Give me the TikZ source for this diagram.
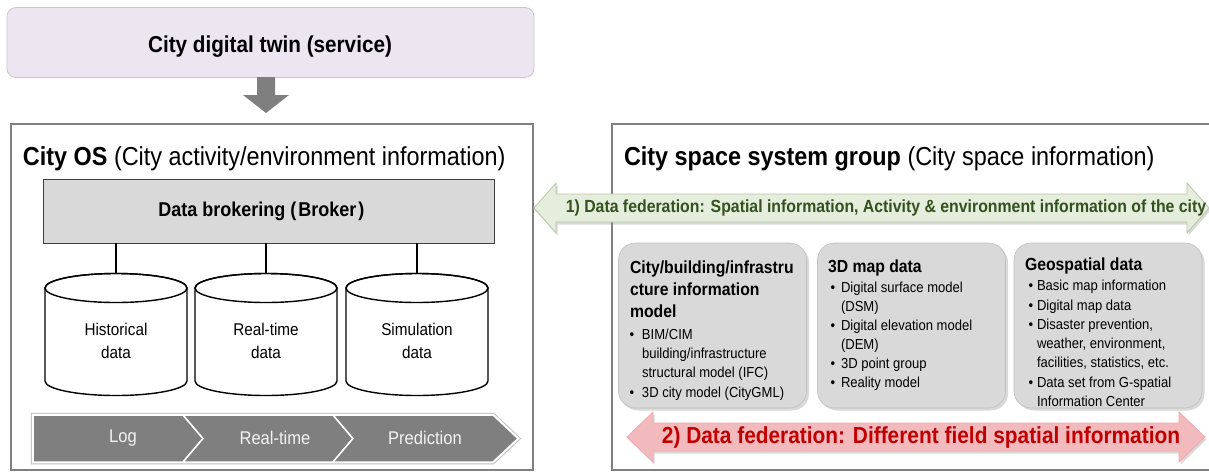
\documentclass[tikz,border=0pt]{standalone}
\usepackage{fontspec}
\setmainfont{Liberation Sans}[FakeStretch=0.9]
\usetikzlibrary{shadows}

\definecolor{twinfill}{HTML}{EBE6F0}
\definecolor{twinline}{HTML}{CDC5D6}
\definecolor{panelgray}{HTML}{D9D9D9}
\definecolor{panelline}{HTML}{BFBFBF}
\definecolor{framegray}{HTML}{808080}
\definecolor{chevgray}{HTML}{7F7F7F}
\definecolor{chevtext}{HTML}{F2F2F2}
\definecolor{fedgreen}{HTML}{E5EEDC}
\definecolor{fedgreenline}{HTML}{B4C6A3}
\definecolor{fedgreentext}{HTML}{34501E}
\definecolor{fedred}{HTML}{F3BABE}
\definecolor{fedredline}{HTML}{EFA9AE}
\definecolor{fedredtext}{HTML}{C00000}

\newcommand\fsz[2]{\fontsize{#1}{#2}\selectfont}

\begin{document}
\begin{tikzpicture}[x=1pt,y=-1pt,
  every node/.style={inner sep=0pt, outer sep=0pt},
  twinbox/.style={draw=twinline, fill=twinfill, line width=0.8pt, rounded corners=9pt,
    minimum width=527pt, minimum height=70pt},
  panelframe/.style={draw=framegray, line width=2.5pt},
  brokerbox/.style={draw=black!75, fill=panelgray, line width=1pt,
    minimum width=451pt, minimum height=64pt},
  cylline/.style={draw=black, line width=1.4pt},
  linkline/.style={draw=black, line width=1.2pt},
  chevron/.style={fill=chevgray, draw=white, line width=1.5pt, line join=miter},
  chevlabel/.style={font=\fsz{18.4}{22}, text=chevtext},
  infobox/.style={draw=panelline, fill=panelgray, line width=0.6pt, rounded corners=17pt,
    minimum width=188pt, minimum height=165pt,
    drop shadow={shadow xshift=2.5pt, shadow yshift=-2.5pt, opacity=0.3}},
  boxhead/.style={anchor=base west, font=\fsz{17.5}{21}\bfseries},
  boxitem/.style={anchor=base west, font=\fsz{14.5}{18}},
  fedshadow/.style={drop shadow={shadow xshift=1.5pt, shadow yshift=-2.5pt, opacity=0.3}},
]
\useasboundingbox (0,0) rectangle (1209,472);

% ---- service layer on top
\node[twinbox] (twin) at (270.5,42.5) {};
\node[font=\fsz{23}{27}\bfseries] (twintext) at (270,47) {City digital twin (service)};
\coordinate (downtop) at (266,77);
\fill[chevgray] (downtop) ++(-9,0) -- ++(18,0) -- ++(0,18) -- ++(14,0)
  -- (266,113) -- ++(-23,-18) -- ++(14,0) -- cycle;

% ---- City OS frame
\node[panelframe, minimum width=522pt, minimum height=346pt] (osframe) at (272,297) {};
\node[anchor=base west, font=\fsz{26}{30}] (ostitle) at (23,165)
  {\bfseries City OS \mdseries(City activity/environment information)};

\node[brokerbox] (broker) at (268.5,211) {};
\node[font=\fsz{20}{24}\bfseries] (brokertext) at (261.5,211)
  {Data brokering\hspace{5pt}(\hspace{2pt}Broker\hspace{2pt})};

% data stores
\foreach \cx/\nm/\ta in {116/hist/Historical, 266/real/Real-time, 417/sim/Simulation}{
  \path[cylline, fill=white] (\cx-71,288) -- (\cx-71,381)
    arc[start angle=180, end angle=0, x radius=71, y radius=14.5] -- (\cx+71,288)
    arc[start angle=0, end angle=-180, x radius=71, y radius=14.5] -- cycle;
  \draw[cylline] (\cx,288) ellipse [x radius=71, y radius=14.5];
  \coordinate (\nm top) at (\cx,273.5);
  \node[align=center, font=\fsz{17}{23}] (\nm) at (\cx,341) {\ta\\data};
  \draw[linkline] (broker.south -| \nm top) -- (\nm top);
}

% time-line chevrons
\path[draw=black!25, line width=4.5pt, line join=miter]
  (33,415) -- (493,415) -- (518,438.5) -- (493,462) -- (33,462) -- cycle;
\path[draw=white, line width=2.5pt, line join=miter]
  (33,415) -- (493,415) -- (518,438.5) -- (493,462) -- (33,462) -- cycle;
\path[chevron] (33,415) -- (183,415) -- (203,438.5) -- (183,462) -- (33,462) -- cycle;
\path[chevron] (183,415) -- (333,415) -- (353,438.5) -- (333,462) -- (183,462) -- (203,438.5) -- cycle;
\path[chevron] (333,415) -- (493,415) -- (518,438.5) -- (493,462) -- (333,462) -- (353,438.5) -- cycle;
\node[chevlabel] (log) at (123,438) {Log};
\node[chevlabel] (rtime) at (275,438) {Real-time};
\node[chevlabel] (pred) at (425,438) {Prediction};

% ---- City space system group frame
\draw[panelframe] (1212,124) -- (612,124) -- (612,470) -- (1212,470);
\node[anchor=base west, font=\fsz{26}{30}] (sptitle) at (624,165)
  {\bfseries City space system group \mdseries(City space information)};

% federation 1 (green, two-headed)
\path[draw=fedgreenline, fill=fedgreen, line width=0.8pt, fedshadow]
  (534,208) -- (556,183) -- (556,194) -- (1187,194) -- (1187,183) -- (1209,208)
  -- (1187,233) -- (1187,222) -- (556,222) -- (556,233) -- cycle;
\node[font=\fsz{17.6}{21}\bfseries, text=fedgreentext] (fed1) at (886,208)
  {1) Data federation: Spatial information, Activity \& environment information of the city};

% information panels
\node[infobox] (info1) at (712.5,325.5) {};
\node[infobox] (info2) at (911.5,325.5) {};
\node[infobox] (info3) at (1108,325.5) {};

\node[boxhead] (h1a) at (630,273) {City/building/infrastru};
\node[boxhead] (h1b) at (630,295) {cture information};
\node[boxhead] (h1c) at (630,317) {model};
\node[boxitem] (i1a) at (629.5,339) {\makebox[12.5pt][l]{\textbullet}BIM/CIM};
\node[boxitem] (i1b) at (642,358) {building/infrastructure};
\node[boxitem] (i1c) at (642,377) {structural model (IFC)};
\node[boxitem] (i1d) at (629.5,397) {\makebox[12.5pt][l]{\textbullet}3D city model (CityGML)};

\node[boxhead] (h2a) at (828,272) {3D map data};
\node[boxitem] (i2a) at (830.5,292) {\makebox[10.5pt][l]{\textbullet}Digital surface model};
\node[boxitem] (i2b) at (841,311) {(DSM)};
\node[boxitem] (i2c) at (830.5,330) {\makebox[10.5pt][l]{\textbullet}Digital elevation model};
\node[boxitem] (i2d) at (841,349) {(DEM)};
\node[boxitem] (i2e) at (830.5,368) {\makebox[10.5pt][l]{\textbullet}3D point group};
\node[boxitem] (i2f) at (830.5,387) {\makebox[10.5pt][l]{\textbullet}Reality model};

\node[boxhead] (h3a) at (1025,270) {Geospatial data};
\node[boxitem] (i3a) at (1028.5,290) {\makebox[8.5pt][l]{\textbullet}Basic map information};
\node[boxitem] (i3b) at (1028.5,310) {\makebox[8.5pt][l]{\textbullet}Digital map data};
\node[boxitem] (i3c) at (1028.5,329) {\makebox[8.5pt][l]{\textbullet}Disaster prevention,};
\node[boxitem] (i3d) at (1037,348) {weather, environment,};
\node[boxitem] (i3e) at (1037,367) {facilities, statistics, etc.};
\node[boxitem] (i3f) at (1028.5,387) {\makebox[8.5pt][l]{\textbullet}Data set from G-spatial};
\node[boxitem] (i3g) at (1037,406) {Information Center};

% federation 2 (red, two-headed)
\path[draw=fedredline, fill=fedred, line width=0.8pt, fedshadow]
  (627,437) -- (653,412) -- (653,423) -- (1179,423) -- (1179,412) -- (1205,437)
  -- (1179,462) -- (1179,451) -- (653,451) -- (653,462) -- cycle;
\node[font=\fsz{23.2}{27}\bfseries, text=fedredtext] (fed2) at (921,437)
  {2) Data federation: Different field spatial information};
\end{tikzpicture}
\end{document}
